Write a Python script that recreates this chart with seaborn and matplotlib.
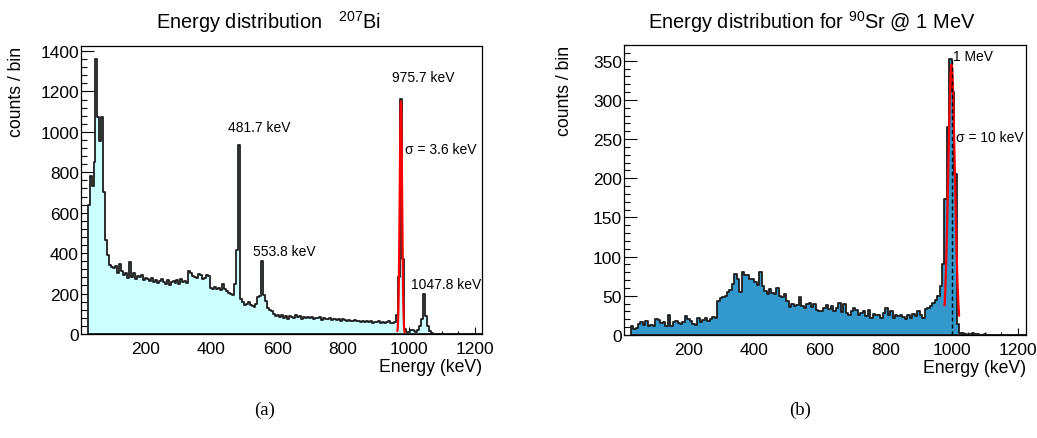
import numpy as np
import pandas as pd
import matplotlib
matplotlib.use("Agg")
import matplotlib.pyplot as plt
import seaborn as sns
from matplotlib.ticker import MultipleLocator

# ---------------- data ----------------
# (a) 207Bi spectrum, 6 keV bins starting at 24 keV
bi_bin_start = 24.0
bi_bin_width = 6.0
bi_counts = [
    640, 780, 730, 850, 1360, 1075, 955, 1075, 705, 465, 390, 340,
    330, 325, 338, 300, 345, 310, 290, 300, 275, 355, 280, 300, 270, 285, 280, 290, 265, 275,
    270, 262, 275, 258, 265, 250, 262, 270, 255, 248, 265, 240, 258, 262, 250, 265, 245, 270, 255, 262,
    250, 310, 300, 285, 280, 275, 295, 290, 270, 275, 290, 285,
    230, 225, 232, 222, 228, 218, 245, 222, 215, 205, 200, 192, 245,
    414, 933, 175, 160, 145, 150, 158, 142, 138, 134, 150, 183, 190, 359, 191, 165, 130, 118, 115, 100, 88,
    95, 85, 92, 80, 88, 76, 90, 85, 78, 92,
    82, 88, 75, 85, 80, 84, 78, 86, 72, 80,
    78, 82, 70, 80, 76, 74, 80, 68, 75, 72,
    70, 74, 66, 72, 68, 62, 70, 66, 64, 68,
    62, 66, 60, 64, 58, 66, 60, 62, 56, 60,
    58, 62, 55, 60, 54, 58, 62, 56, 52, 60,
    93, 283, 1165, 372, 26, 12, 8, 18, 20, 14, 12, 18, 40, 75, 199, 90, 41, 15, 3,
    0, 0, 0, 0, 0, 0, 0, 0, 0, 0, 0, 0, 0, 0, 0, 0, 0, 0, 0, 0, 0, 0, 0, 0, 0,
]
bi_fit_mean = 975.7
bi_fit_sigma = 3.6
bi_fit_amp = 1150.0
bi_fit_range = [965.0, 987.0]
bi_labels = ["481.7 keV", "553.8 keV", "975.7 keV", "1047.8 keV"]
bi_label_x = [545, 621, 1043, 1114]
bi_label_y = [1025, 409, 1273, 249]

# (b) 90Sr spectrum, 7.5 keV bins starting at 25 keV
sr_bin_start = 25.0
sr_bin_width = 7.5
sr_counts = [
    11, 8, 9, 14, 16, 13, 18, 12, 13, 11,
    20, 19, 15, 16, 12, 25, 11, 17, 18, 15,
    14, 16, 24, 20, 18, 14, 13, 22, 16, 19,
    22, 18, 20, 23, 22, 43, 47, 49, 50, 55,
    57, 65, 78, 72, 55, 81, 77, 77, 72, 71,
    68, 64, 80, 62, 56, 52, 59, 54, 52, 60,
    50, 48, 52, 44, 36, 40, 37, 38, 49, 37,
    35, 40, 41, 36, 40, 32, 30, 31, 34, 38,
    33, 37, 30, 34, 41, 29, 40, 28, 26, 30,
    35, 32, 25, 28, 30, 24, 32, 22, 27, 25,
    26, 22, 28, 35, 25, 30, 22, 26, 24, 25,
    23, 20, 25, 22, 27, 24, 30, 26, 22, 33,
    35, 37, 41, 45, 50, 62, 90, 173, 265, 352,
    310, 205, 14, 3, 2, 1, 0, 1, 2, 1,
    1, 0, 0, 1, 0, 0, 0, 0, 0, 0, 0, 0, 0, 0, 0, 0, 0, 0, 0, 0,
]
sr_fit_mean = 999.0
sr_fit_sigma = 10.0
sr_fit_amp = 345.0
sr_fit_range = [978.0, 1022.0]
sr_marker_energy = 1000.0
sr_marker_top = 352.0

titles = ["Energy distribution   $^{207}$Bi", "Energy distribution for $^{90}$Sr @ 1 MeV"]
captions = ["(a)", "(b)"]

# ---------------- style ----------------
sns.set_style("ticks")
plt.rcParams["font.family"] = ["Liberation Sans", "DejaVu Sans"]
plt.rcParams["mathtext.fontset"] = "custom"
plt.rcParams["mathtext.rm"] = "Liberation Sans"
plt.rcParams["mathtext.default"] = "regular"
plt.rcParams["text.color"] = "black"
plt.rcParams["axes.labelcolor"] = "black"
plt.rcParams["xtick.color"] = "black"
plt.rcParams["ytick.color"] = "black"
plt.rcParams["xtick.labelcolor"] = "black"
plt.rcParams["ytick.labelcolor"] = "black"

W, H = 1037, 439
fig = plt.figure(figsize=(W / 100, H / 100), dpi=100)


def frac(x0, y0, x1, y1):
    return [x0 / W, 1 - y1 / H, (x1 - x0) / W, (y1 - y0) / H]


ax1 = fig.add_axes(frac(81, 47, 482, 335))
ax2 = fig.add_axes(frac(624, 46, 1026, 336))


def draw_hist(ax, start, width, counts, color):
    counts = np.asarray(counts, dtype=float)
    n = len(counts)
    centers = start + width * (np.arange(n) + 0.5)
    df = pd.DataFrame({"energy": centers, "counts": counts})
    sns.histplot(data=df, x="energy", weights="counts", binwidth=width,
                 binrange=(start, start + width * n), element="step",
                 fill=True, color=color, alpha=1, edgecolor="#1e1e1e", linewidth=1.3, ax=ax)


def draw_fit(ax, mean, sigma, amp, rng):
    xs = np.linspace(rng[0], rng[1], 300)
    ys = amp * np.exp(-0.5 * ((xs - mean) / sigma) ** 2)
    sns.lineplot(x=xs, y=ys, color="#ff0000", linewidth=1.6, ax=ax, sort=False, estimator=None)


draw_hist(ax1, bi_bin_start, bi_bin_width, bi_counts, "#ccffff")
draw_fit(ax1, bi_fit_mean, bi_fit_sigma, bi_fit_amp, bi_fit_range)
draw_hist(ax2, sr_bin_start, sr_bin_width, sr_counts, "#3399cc")
draw_fit(ax2, sr_fit_mean, sr_fit_sigma, sr_fit_amp, sr_fit_range)
ax2.vlines(sr_marker_energy, 0, sr_marker_top, colors="black", linestyles=(0, (3, 2)), linewidth=1.0)

ax1.set_xlim(4, 1222)
ax1.set_ylim(0, 1425)
ax2.set_xlim(5, 1225)
ax2.set_ylim(0, 370)

for ax, ymaj, ymin in [(ax1, 200, 40), (ax2, 50, 10)]:
    ax.xaxis.set_major_locator(MultipleLocator(200))
    ax.xaxis.set_minor_locator(MultipleLocator(50))
    ax.yaxis.set_major_locator(MultipleLocator(ymaj))
    ax.yaxis.set_minor_locator(MultipleLocator(ymin))
    ax.tick_params(which="both", direction="in", top=False, right=False, width=0.8, color="black")
    ax.tick_params(axis="x", which="major", length=5, pad=5, labelsize=12.5)
    ax.tick_params(axis="x", which="minor", length=2.5)
    ax.tick_params(axis="y", which="major", length=9, pad=1.5, labelsize=12.5)
    ax.tick_params(axis="y", which="minor", length=4.5)
    for sp in ax.spines.values():
        sp.set_visible(True)
        sp.set_linewidth(0.9)
        sp.set_color("black")
    ax.set_xlabel("Energy (keV)", fontsize=12.7, loc="right")
    ax.set_ylabel("counts / bin", fontsize=12.7, loc="top")
    ax.xaxis.set_label_coords(1.0, -0.083)

ax1.yaxis.set_label_coords(-0.14, 1.0)
ax2.yaxis.set_label_coords(-0.127, 1.0)

for lab, x, y in zip(bi_labels, bi_label_x, bi_label_y):
    ax1.text(x, y, lab, ha="center", va="center", fontsize=10)
ax1.text(987, 917, "σ = 3.6 keV", ha="left", va="center", fontsize=10)
ax2.text(1002, 356, "1 MeV", ha="left", va="center", fontsize=10)
ax2.text(1013, 253, "σ = 10 keV", ha="left", va="center", fontsize=10)

fig.text(268 / W, 1 - 29 / H, titles[0], ha="center", va="baseline", fontsize=14.4)
fig.text(812 / W, 1 - 29 / H, titles[1], ha="center", va="baseline", fontsize=14.4)

fig.text(265 / W, 1 - 410 / H, captions[0], ha="center", va="center", fontsize=13.5,
         family=["Liberation Serif", "DejaVu Serif"])
fig.text(800 / W, 1 - 410 / H, captions[1], ha="center", va="center", fontsize=13.5,
         family=["Liberation Serif", "DejaVu Serif"])

fig.savefig("out.png", dpi=100)
